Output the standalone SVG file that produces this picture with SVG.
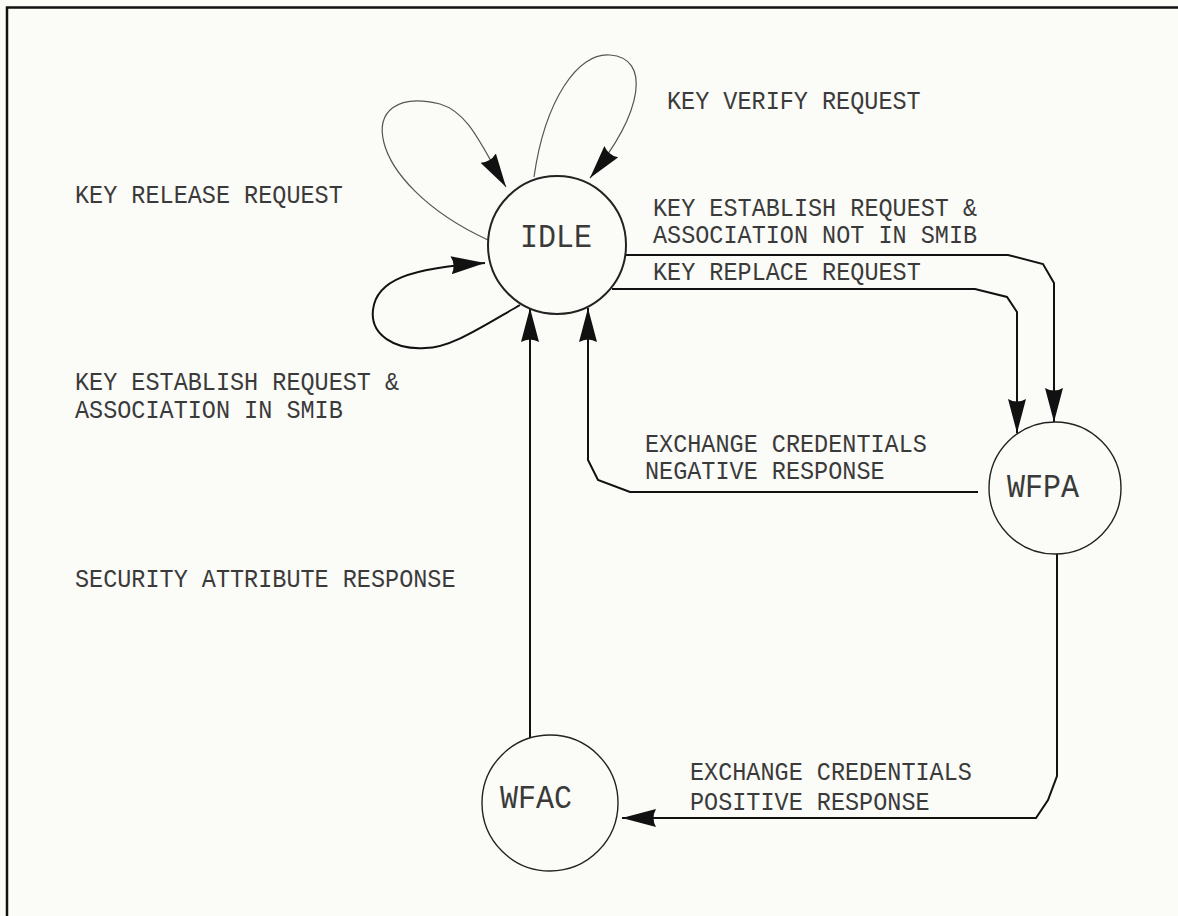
<svg xmlns="http://www.w3.org/2000/svg" width="1178" height="916" viewBox="0 0 1178 916">
<style>
.bg{fill:#fbfbf8}
.frame{fill:none;stroke:#111;stroke-width:2.5}
.node{fill:none;stroke:#222}
.lbl{font-family:"Liberation Mono","DejaVu Sans Mono",monospace;font-size:23.5px;fill:#3a3a3a}
.nlbl{font-family:"Liberation Mono","DejaVu Sans Mono",monospace;font-size:30px;fill:#3a3a3a;text-anchor:middle}
.edge{fill:none;stroke:#111;stroke-width:2}
.thin{fill:none;stroke:#555;stroke-width:1.2}
</style>
<defs>
<marker id="ah" markerUnits="userSpaceOnUse" markerWidth="36" markerHeight="20" refX="34" refY="9" orient="auto">
<path d="M0,0 L34,9 L0,18 Q5,9 0,0 z" fill="#111"/>
</marker>
</defs>
<rect class="bg" x="0" y="0" width="1178" height="916"/>
<path class="frame" d="M7,916 L7,7.5 L1178,7.5"/>

<g id="connectors">
<path class="thin" d="M488,240 C362,182 352,82 440,104 C470,113 482,148 506,187" marker-end="url(#ah)"/>
<path class="thin" d="M534,177 C545,100 578,52 610,55 C650,58 645,110 590,178" marker-end="url(#ah)"/>
<path class="edge" d="M520,305 C480,328 450,348 425,348 C395,350 370,335 373,310 C376,280 410,268 485,263" marker-end="url(#ah)"/>
<path class="edge" d="M530,738 L530,308" marker-end="url(#ah)"/>
<path class="edge" d="M978,492 L630,492 L598,480 L588,460 L588,308" marker-end="url(#ah)"/>
<path class="edge" d="M625,255 L1008,255 L1043,264 L1054,283 L1054,422" marker-end="url(#ah)"/>
<path class="edge" d="M612,289 L975,289 L1007,297 L1017,312 L1017,433" marker-end="url(#ah)"/>
<path class="edge" d="M1057,554 L1057,776 L1048,800 L1036,818 L622,818" marker-end="url(#ah)"/>
</g>

<g id="labels">
<text class="lbl" transform="translate(667,109) scale(1,1.1)">KEY VERIFY REQUEST</text>
<text class="lbl" transform="translate(75,203) scale(1,1.1)">KEY RELEASE REQUEST</text>
<text class="lbl" transform="translate(653,216) scale(1,1.1)">KEY ESTABLISH REQUEST &amp;</text>
<text class="lbl" transform="translate(653,243) scale(1,1.1)">ASSOCIATION NOT IN SMIB</text>
<text class="lbl" transform="translate(653,280) scale(1,1.1)">KEY REPLACE REQUEST</text>
<text class="lbl" transform="translate(75,390) scale(1,1.1)">KEY ESTABLISH REQUEST &amp;</text>
<text class="lbl" transform="translate(75,418) scale(1,1.1)">ASSOCIATION IN SMIB</text>
<text class="lbl" transform="translate(645,452) scale(1,1.1)">EXCHANGE CREDENTIALS</text>
<text class="lbl" transform="translate(645,479) scale(1,1.1)">NEGATIVE RESPONSE</text>
<text class="lbl" transform="translate(75,587) scale(1,1.1)">SECURITY ATTRIBUTE RESPONSE</text>
<text class="lbl" transform="translate(690,780) scale(1,1.1)">EXCHANGE CREDENTIALS</text>
<text class="lbl" transform="translate(690,810) scale(1,1.1)">POSITIVE RESPONSE</text>
</g>

<g id="node-idle">
<circle class="node" cx="557" cy="245" r="69" stroke-width="2"/>
<text class="nlbl" transform="translate(556,247) scale(1,1.1)">IDLE</text>
</g>
<g id="node-wfpa">
<circle class="node" cx="1055" cy="488" r="66" stroke-width="1.4"/>
<text class="nlbl" transform="translate(1043,497) scale(1,1.1)">WFPA</text>
</g>
<g id="node-wfac">
<circle class="node" cx="550" cy="803" r="68" stroke-width="1.4"/>
<text class="nlbl" transform="translate(536,808) scale(1,1.1)">WFAC</text>
</g>
</svg>
